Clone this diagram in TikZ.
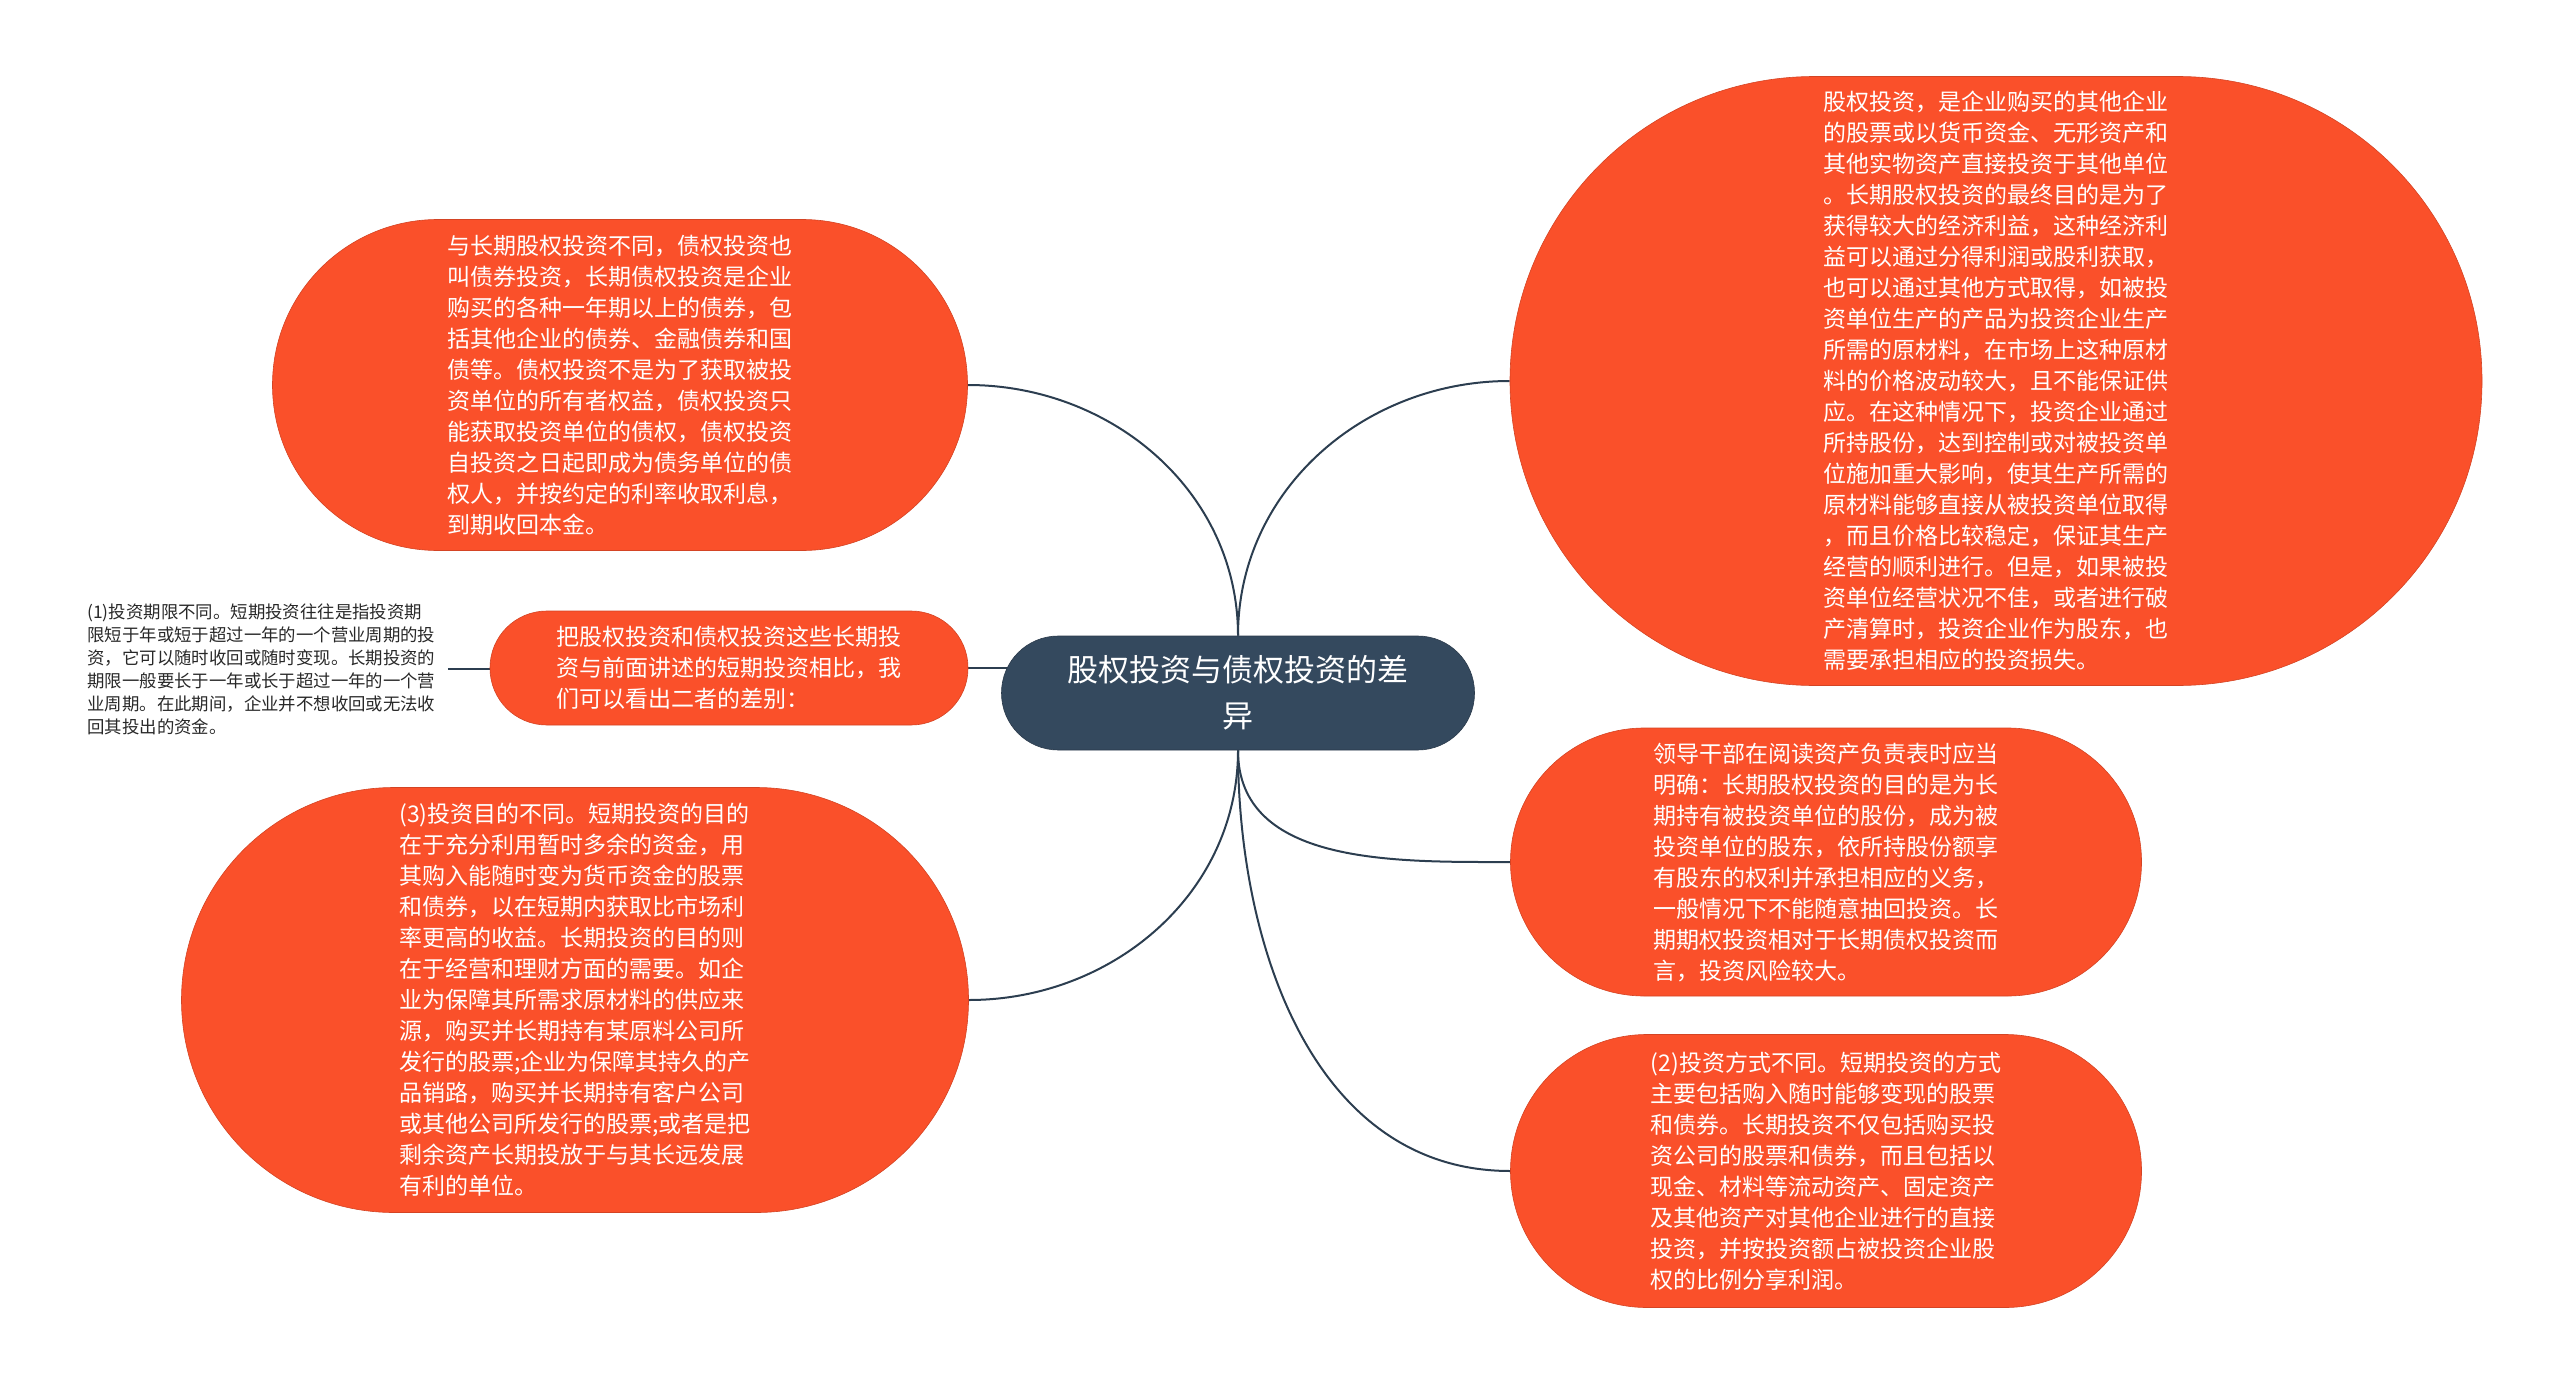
\documentclass[tikz,border=0pt]{standalone}
\usepackage{fontspec}
\setmainfont{Noto Sans CJK SC}
\usetikzlibrary{backgrounds}
\definecolor{juhong}{RGB}{250,80,42}
\definecolor{shenlan}{RGB}{52,73,94}
\definecolor{xianse}{RGB}{44,62,80}
\definecolor{wenzi}{RGB}{40,40,40}
\begin{document}
\begin{tikzpicture}[x=0.5pt, y=0.5pt, line join=round, line cap=round,
  chicun/.style 2 args={rectangle, minimum width=#1pt, minimum height=#2pt, rounded corners=#2*0.5pt-0.1pt},
  zhi/.style={fill=juhong, draw=juhong!85!black, line width=0.3pt,
    text=white, align=left, inner sep=0pt,
    font=\fontsize{11.5}{15.5}\selectfont},
  gen/.style={fill=shenlan, draw=shenlan!80!black, line width=0.3pt,
    text=white, align=center, inner sep=0pt,
    font=\fontsize{15.5}{23}\selectfont},
  lian/.style={draw=xianse, line width=1pt}]
% 画布大小
\useasboundingbox (0,0) rectangle (2560,-1386);
% 中心主题
\node[gen, chicun={236.5}{57}] (zhuti) at (1238,-693) {股权投资与债权投资的差\\异};
% 右上：股权投资
\node[zhi, chicun={486}{304.5}] (guquan) at (1996,-381) {股权投资，是企业购买的其他企业\\
的股票或以货币资金、无形资产和\\
其他实物资产直接投资于其他单位\\
。长期股权投资的最终目的是为了\\
获得较大的经济利益，这种经济利\\
益可以通过分得利润或股利获取，\\
也可以通过其他方式取得，如被投\\
资单位生产的产品为投资企业生产\\
所需的原材料，在市场上这种原材\\
料的价格波动较大，且不能保证供\\
应。在这种情况下，投资企业通过\\
所持股份，达到控制或对被投资单\\
位施加重大影响，使其生产所需的\\
原材料能够直接从被投资单位取得\\
，而且价格比较稳定，保证其生产\\
经营的顺利进行。但是，如果被投\\
资单位经营状况不佳，或者进行破\\
产清算时，投资企业作为股东，也\\
需要承担相应的投资损失。};
% 左上：债权投资
\node[zhi, chicun={347.5}{165.5}] (zhaiquan) at (620,-385) {与长期股权投资不同，债权投资也\\
叫债券投资，长期债权投资是企业\\
购买的各种一年期以上的债券，包\\
括其他企业的债券、金融债券和国\\
债等。债权投资不是为了获取被投\\
资单位的所有者权益，债权投资只\\
能获取投资单位的债权，债权投资\\
自投资之日起即成为债务单位的债\\
权人，并按约定的利率收取利息，\\
到期收回本金。};
% 左中：比较
\node[zhi, chicun={239}{57}] (bijiao) at (729,-668) {把股权投资和债权投资这些长期投\\
资与前面讲述的短期投资相比，我\\
们可以看出二者的差别：};
% 最左：(1)
\node[anchor=west, align=left, text=wenzi, inner xsep=6pt, inner ysep=0pt,
  font=\fontsize{8.7}{11.5}\selectfont] (qixian) at (75,-669) {(1)投资期限不同。短期投资往往是指投资期\\
限短于年或短于超过一年的一个营业周期的投\\
资，它可以随时收回或随时变现。长期投资的\\
期限一般要长于一年或长于超过一年的一个营\\
业周期。在此期间，企业并不想收回或无法收\\
回其投出的资金。};
% 左下：(3)
\node[zhi, chicun={393.5}{212.5}] (mudi) at (575,-1000) {(3)投资目的不同。短期投资的目的\\
在于充分利用暂时多余的资金，用\\
其购入能随时变为货币资金的股票\\
和债券，以在短期内获取比市场利\\
率更高的收益。长期投资的目的则\\
在于经营和理财方面的需要。如企\\
业为保障其所需求原材料的供应来\\
源，购买并长期持有某原料公司所\\
发行的股票;企业为保障其持久的产\\
品销路，购买并长期持有客户公司\\
或其他公司所发行的股票;或者是把\\
剩余资产长期投放于与其长远发展\\
有利的单位。};
% 右中：领导干部
\node[zhi, chicun={315.5}{134}] (lingdao) at (1826,-862) {领导干部在阅读资产负责表时应当\\
明确：长期股权投资的目的是为长\\
期持有被投资单位的股份，成为被\\
投资单位的股东，依所持股份额享\\
有股东的权利并承担相应的义务，\\
一般情况下不能随意抽回投资。长\\
期期权投资相对于长期债权投资而\\
言，投资风险较大。};
% 右下：(2)
\node[zhi, chicun={315.5}{136.5}] (fangshi) at (1826,-1171) {(2)投资方式不同。短期投资的方式\\
主要包括购入随时能够变现的股票\\
和债券。长期投资不仅包括购买投\\
资公司的股票和债券，而且包括以\\
现金、材料等流动资产、固定资产\\
及其他资产对其他企业进行的直接\\
投资，并按投资额占被投资企业股\\
权的比例分享利润。};
% 连线
\begin{pgfonlayer}{background}
\draw[lian] (zhuti.north) to[out=90, in=0] (zhaiquan.east);
\draw[lian] (zhuti.north) to[out=90, in=180] (guquan.west);
\draw[lian] (bijiao.east) -- (bijiao.east -| zhuti.center);
\draw[lian] (qixian.east) -- (qixian.east -| bijiao.center);
\draw[lian] (zhuti.south) to[out=-90, in=0] (mudi.east);
\draw[lian] (zhuti.south) to[out=-90, in=180] (lingdao.west);
\draw[lian] (zhuti.south) to[out=-90, in=180] (fangshi.west);
\end{pgfonlayer}
\end{tikzpicture}
\end{document}
